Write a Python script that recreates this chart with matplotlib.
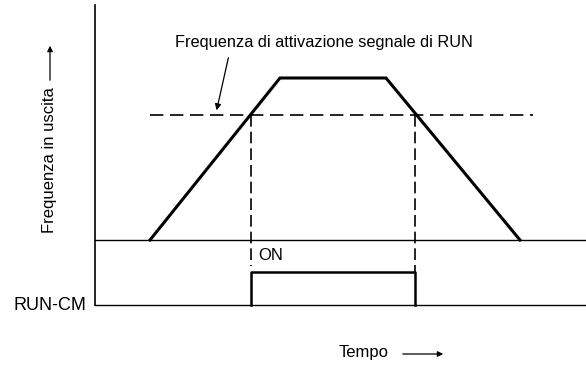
import numpy as np
import matplotlib.pyplot as plt

plt.rcParams['font.family'] = ['Liberation Sans', 'DejaVu Sans']

# time instants of the ramp (accel start, top reached, decel start, stop)
ramp_t = [150, 280, 386, 520]
ramp_f = [0.0, 1.0, 1.0, 0.0]
# RUN signal threshold (fraction of max frequency) and its line extent
run_level = 0.77
run_line_t = [150, 533]
# RUN-CM output: on between the two crossings
run_on_t = [251, 415]

# layout of the two panels, in pixels
x_axis = 95
x_end = 586
f_base, f_top = 240, 78
s_base, s_top = 305, 272


def fy(f):
    return f_base - f * (f_base - f_top)


def sy(s):
    return s_base - s * (s_base - s_top)


fig = plt.figure(figsize=(5.86, 3.65), dpi=100)
ax = fig.add_axes([0, 0, 1, 1])
ax.set_xlim(0, 586)
ax.set_ylim(365, 0)
ax.axis('off')

# axes lines
ax.plot([x_axis, x_axis], [5, s_base], color='black', lw=1.2)
ax.plot([x_axis, x_end], [f_base, f_base], color='black', lw=1.0)
ax.plot([x_axis, x_end], [s_base, s_base], color='black', lw=1.0)

# frequency trapezoid
ax.plot(ramp_t, [fy(v) for v in ramp_f], color='black', lw=2.2,
        solid_joinstyle='miter')

# threshold
ax.plot(run_line_t, [fy(run_level)] * 2, color='black', lw=1.2,
        dashes=(8, 4))
ax.plot([run_on_t[0]] * 2, [fy(run_level), 266], color='black', lw=1.2,
        dashes=(7, 3))
ax.plot([run_on_t[1]] * 2, [fy(run_level), sy(1)], color='black', lw=1.2,
        dashes=(7, 3))

# RUN-CM pulse
pulse_t = [run_on_t[0], run_on_t[0], run_on_t[1], run_on_t[1]]
pulse_s = [0, 1, 1, 0]
ax.plot(pulse_t, [sy(v) for v in pulse_s], color='black', lw=1.8)

# texts
ax.text(175, 42, 'Frequenza di attivazione segnale di RUN', fontsize=11.8,
        ha='left', va='center')
ax.annotate('', xy=(216, 113), xytext=(229, 55),
            arrowprops=dict(arrowstyle='-|>', color='black', lw=0.9,
                            mutation_scale=9))
ax.text(258, 256, 'ON', fontsize=12, ha='left', va='center')
ax.text(86, 305, 'RUN-CM', fontsize=13, ha='right', va='center')
ax.text(50, 160, 'Frequenza in uscita', fontsize=12, rotation=90,
        ha='center', va='center')
ax.annotate('', xy=(50, 43), xytext=(50, 83),
            arrowprops=dict(arrowstyle='-|>', color='black', lw=0.9,
                            mutation_scale=8))
ax.text(339, 353, 'Tempo', fontsize=12, ha='left', va='center')
ax.annotate('', xy=(446, 354), xytext=(400, 354),
            arrowprops=dict(arrowstyle='-|>', color='black', lw=0.9,
                            mutation_scale=8))

fig.savefig('out.png', dpi=100, facecolor='white')
